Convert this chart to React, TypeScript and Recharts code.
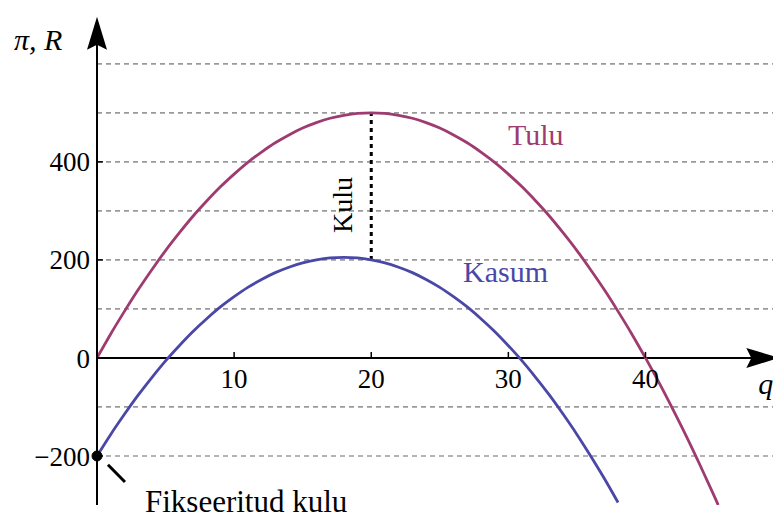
import React from 'react';
import { LineChart, Line, XAxis, YAxis, ReferenceLine, ReferenceDot } from 'recharts';

const qValues = [0, 1, 2, 3, 4, 5, 6, 7, 8, 9, 10, 11, 12, 13, 14, 15, 16, 17, 18, 19, 20, 21, 22, 23, 24, 25, 26, 27, 28, 29, 30, 31, 32, 33, 34, 35, 36, 37, 38, 39, 40, 41, 42, 43, 44, 45, 45.3];
const tuluValues = [0, 49, 95, 139, 180, 219, 255, 289, 320, 349, 375, 399, 420, 439, 455, 469, 480, 489, 495, 499, 500, 499, 495, 489, 480, 469, 455, 439, 420, 399, 375, 349, 320, 289, 255, 219, 180, 139, 95, 49, 0, -51, -105, -161, -220, -281, -300];
const kasumValues = [-200, -156, -115, -76, -40, -6, 25, 54, 80, 104, 125, 144, 160, 174, 185, 194, 200, 204, 205, 204, 200, 194, 185, 174, 160, 144, 125, 104, 80, 54, 25, -6, -40, -76, -115, -156, -200, -246, -295];
const gridValues = [-200, -100, 100, 200, 300, 400, 500, 600];
const yTickValues = [-200, 0, 200, 400];
const xTickValues = [10, 20, 30, 40];
const seriesLabels = { tulu: 'Tulu', kasum: 'Kasum', kulu: 'Kulu', fixed: 'Fikseeritud kulu', yAxis: 'π, R', xAxis: 'q' };

const data = qValues.map((q, i) => ({
  q,
  tulu: tuluValues[i],
  kasum: i < kasumValues.length ? kasumValues[i] : null,
}));

const FONT = '"Liberation Serif", "Times New Roman", serif';
const TULU = '#9e3b70';
const KASUM = '#4a47a6';

const fmt = (v: number) => (v < 0 ? '\u2212' + Math.abs(v) : String(v));

const textShape = (
  txt: string,
  dx: number,
  dy: number,
  color: string,
  size: number,
  anchor: string,
  italic = false,
  rotate = 0
) => (props: any) => {
  const x = props.cx + dx;
  const y = props.cy + dy;
  return (
    <text
      x={x}
      y={y}
      fill={color}
      fontSize={size}
      fontFamily={FONT}
      fontStyle={italic ? 'italic' : 'normal'}
      textAnchor={anchor}
      dominantBaseline="central"
      transform={rotate ? `rotate(${rotate} ${x} ${y})` : undefined}
    >
      {txt}
    </text>
  );
};

const xTickShape = (label: string) => (props: any) => (
  <g>
    <line x1={props.cx} y1={props.cy} x2={props.cx} y2={props.cy - 6} stroke="#000" strokeWidth={1.5} />
    <text x={props.cx} y={props.cy + 21} fontSize={27} fontFamily={FONT} fill="#000" textAnchor="middle" dominantBaseline="central">
      {label}
    </text>
  </g>
);

const yTickShape = (props: any) => (
  <line x1={props.cx} y1={props.cy} x2={props.cx + 6} y2={props.cy} stroke="#000" strokeWidth={1.5} />
);

const upArrow = (props: any) => {
  const { cx, cy } = props;
  return <path d={`M ${cx} ${cy - 31} L ${cx + 10} ${cy + 2} L ${cx} ${cy - 3} L ${cx - 10} ${cy + 2} Z`} fill="#000" />;
};

const rightArrow = (props: any) => {
  const { cx, cy } = props;
  return <path d={`M ${cx + 31} ${cy} L ${cx - 2} ${cy + 10} L ${cx + 3} ${cy} L ${cx - 2} ${cy - 10} Z`} fill="#000" />;
};

export default function App() {
  return (
    <div style={{ position: 'absolute', left: 0, top: 0, width: 773, height: 519, background: '#fff', overflow: 'hidden' }}>
      <LineChart width={773} height={519} data={data} margin={{ top: 30, right: 0, bottom: 14, left: 0 }}>
        <XAxis dataKey="q" type="number" domain={[0, 49.3]} hide allowDataOverflow />
        <YAxis
          type="number"
          domain={[-300, 669]}
          ticks={yTickValues}
          interval={0}
          width={97}
          allowDataOverflow
          tickSize={0}
          tickMargin={7}
          tickLine={false}
          axisLine={{ stroke: '#000', strokeWidth: 2 }}
          tick={{ fontFamily: FONT, fontSize: 27, fill: '#000' }}
          tickFormatter={fmt}
        />
        {gridValues.map((v) => (
          <ReferenceLine key={'g' + v} y={v} stroke="#9a9a9a" strokeWidth={1.7} strokeDasharray="5 4" />
        ))}
        <ReferenceLine y={0} stroke="#000" strokeWidth={2} />
        {xTickValues.map((v) => (
          <ReferenceDot key={'xt' + v} x={v} y={0} ifOverflow="visible" shape={xTickShape(String(v))} />
        ))}
        {yTickValues.map((v) => (
          <ReferenceDot key={'yt' + v} x={0} y={v} ifOverflow="visible" shape={yTickShape} />
        ))}
        <ReferenceLine
          segment={[{ x: 20, y: 200 }, { x: 20, y: 500 }]}
          stroke="#000"
          strokeWidth={3}
          strokeDasharray="4 4"
          ifOverflow="visible"
        />
        <Line type="natural" dataKey="tulu" stroke={TULU} strokeWidth={2.8} dot={false} isAnimationActive={false} />
        <Line type="natural" dataKey="kasum" stroke={KASUM} strokeWidth={2.8} dot={false} isAnimationActive={false} connectNulls={false} />
        <ReferenceDot x={0} y={-200} r={5} fill="#000" stroke="#000" ifOverflow="visible" />
        <ReferenceLine
          segment={[{ x: 0.8, y: -218 }, { x: 2.04, y: -253 }]}
          stroke="#000"
          strokeWidth={3}
          ifOverflow="visible"
        />
        <ReferenceDot x={0} y={633} ifOverflow="visible" shape={upArrow} />
        <ReferenceDot x={47.5} y={0} ifOverflow="visible" shape={rightArrow} />
        <ReferenceDot x={0} y={633} ifOverflow="visible" shape={textShape(seriesLabels.yAxis, -83, -8, '#000', 30, 'start', true)} />
        <ReferenceDot x={47.5} y={0} ifOverflow="visible" shape={textShape(seriesLabels.xAxis, 10, 26, '#000', 30, 'start', true)} />
        <ReferenceDot x={32} y={455} ifOverflow="visible" shape={textShape(seriesLabels.tulu, 0, 0, TULU, 30, 'middle')} />
        <ReferenceDot x={29.8} y={176} ifOverflow="visible" shape={textShape(seriesLabels.kasum, 0, 0, KASUM, 30, 'middle')} />
        <ReferenceDot x={17.9} y={312} ifOverflow="visible" shape={textShape(seriesLabels.kulu, 0, 0, '#000', 28, 'middle', false, -90)} />
        <ReferenceDot x={3.5} y={-300} ifOverflow="visible" shape={textShape(seriesLabels.fixed, 0, -4, '#000', 31, 'start')} />
      </LineChart>
    </div>
  );
}
